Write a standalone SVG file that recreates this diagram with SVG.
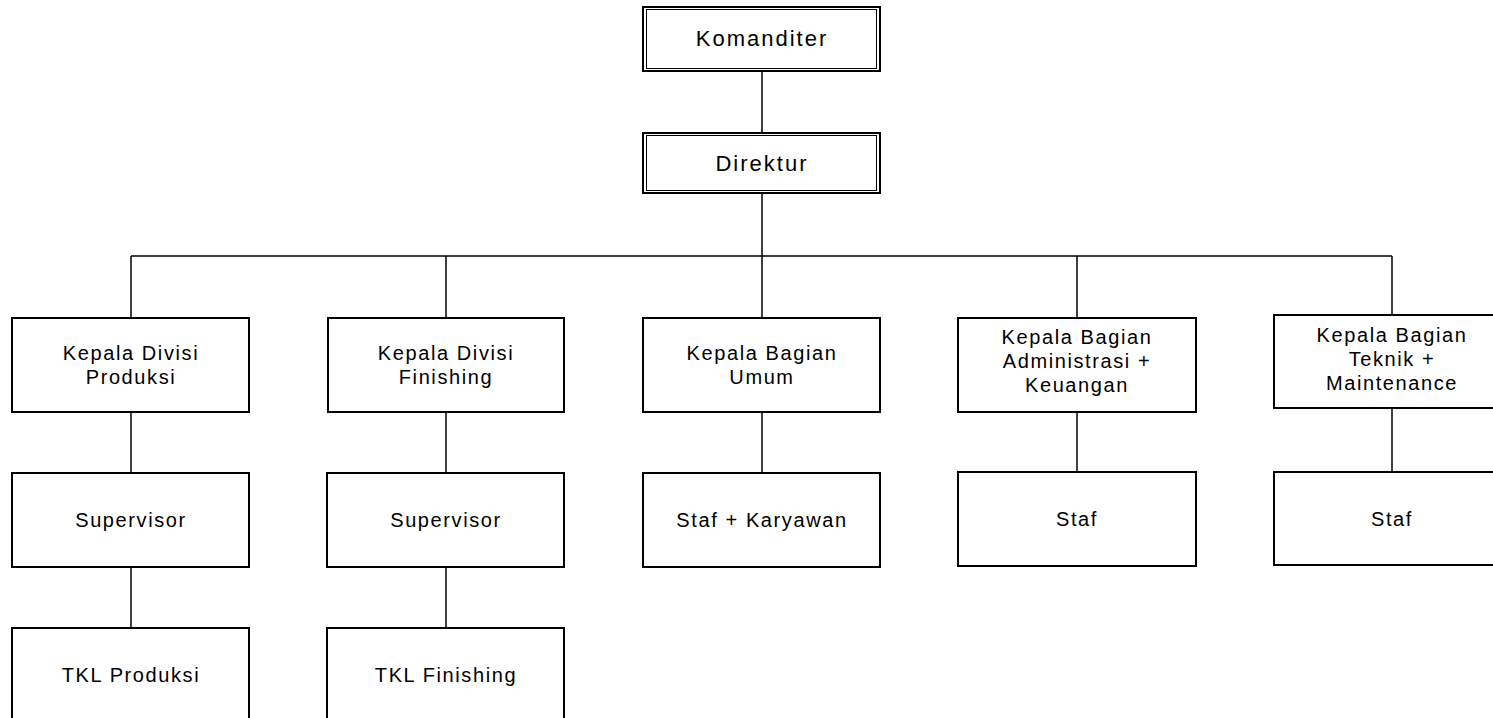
<svg xmlns="http://www.w3.org/2000/svg" width="1493" height="718" viewBox="0 0 1493 718">
<style>
.box{fill:#fff;stroke:#000;stroke-width:2}
.inner{fill:none;stroke:#000;stroke-width:1}
.t{font-family:"Liberation Sans",Arial,sans-serif;font-size:20px;letter-spacing:1.6px;fill:#000;text-anchor:middle}
.tt{font-family:"Liberation Sans",Arial,sans-serif;font-size:22px;letter-spacing:2px;fill:#000;text-anchor:middle}
.c{stroke:#000;stroke-width:1.5;fill:none}
</style>
<rect width="1493" height="718" fill="#fff"/>
<g id="connectors">
<line class="c" x1="762" y1="71" x2="762" y2="133"/>
<line class="c" x1="762" y1="193" x2="762" y2="318"/>
<line class="c" x1="131" y1="256" x2="1392" y2="256"/>
<line class="c" x1="131" y1="256" x2="131" y2="318"/>
<line class="c" x1="446" y1="256" x2="446" y2="318"/>
<line class="c" x1="1077" y1="256" x2="1077" y2="318"/>
<line class="c" x1="1392" y1="256" x2="1392" y2="315"/>
<line class="c" x1="131" y1="412" x2="131" y2="473"/>
<line class="c" x1="446" y1="412" x2="446" y2="473"/>
<line class="c" x1="762" y1="412" x2="762" y2="473"/>
<line class="c" x1="1077" y1="412" x2="1077" y2="472"/>
<line class="c" x1="1392" y1="408" x2="1392" y2="472"/>
<line class="c" x1="131" y1="567" x2="131" y2="628"/>
<line class="c" x1="446" y1="567" x2="446" y2="628"/>
</g>
<g id="komanditer">
<rect class="box" x="643" y="7" width="237" height="64"/>
<rect class="inner" x="646.5" y="9.5" width="230" height="59"/>
<text class="tt" x="762" y="46">Komanditer</text>
</g>
<g id="direktur">
<rect class="box" x="643" y="133" width="237" height="60"/>
<rect class="inner" x="646.5" y="135.5" width="230" height="55"/>
<text class="tt" x="762" y="171">Direktur</text>
</g>
<g id="kadiv-produksi">
<rect class="box" x="12" y="318" width="237" height="94"/>
<text class="t" x="131" y="360">Kepala Divisi</text>
<text class="t" x="131" y="384">Produksi</text>
</g>
<g id="kadiv-finishing">
<rect class="box" x="328" y="318" width="236" height="94"/>
<text class="t" x="446" y="360">Kepala Divisi</text>
<text class="t" x="446" y="384">Finishing</text>
</g>
<g id="kabag-umum">
<rect class="box" x="643" y="318" width="237" height="94"/>
<text class="t" x="762" y="360">Kepala Bagian</text>
<text class="t" x="762" y="384">Umum</text>
</g>
<g id="kabag-admin">
<rect class="box" x="958" y="318" width="238" height="94"/>
<text class="t" x="1077" y="344">Kepala Bagian</text>
<text class="t" x="1077" y="368">Administrasi +</text>
<text class="t" x="1077" y="392">Keuangan</text>
</g>
<g id="kabag-teknik">
<rect class="box" x="1274" y="315" width="237" height="93"/>
<text class="t" x="1392" y="342">Kepala Bagian</text>
<text class="t" x="1392" y="366">Teknik +</text>
<text class="t" x="1392" y="390">Maintenance</text>
</g>
<g id="supervisor-produksi">
<rect class="box" x="12" y="473" width="237" height="94"/>
<text class="t" x="131" y="527">Supervisor</text>
</g>
<g id="supervisor-finishing">
<rect class="box" x="327" y="473" width="237" height="94"/>
<text class="t" x="446" y="527">Supervisor</text>
</g>
<g id="staf-karyawan">
<rect class="box" x="643" y="473" width="237" height="94"/>
<text class="t" x="762" y="527">Staf + Karyawan</text>
</g>
<g id="staf-admin">
<rect class="box" x="958" y="472" width="238" height="94"/>
<text class="t" x="1077" y="526">Staf</text>
</g>
<g id="staf-teknik">
<rect class="box" x="1274" y="472" width="237" height="93"/>
<text class="t" x="1392" y="526">Staf</text>
</g>
<g id="tkl-produksi">
<rect class="box" x="12" y="628" width="237" height="100"/>
<text class="t" x="131" y="682">TKL Produksi</text>
</g>
<g id="tkl-finishing">
<rect class="box" x="327" y="628" width="237" height="100"/>
<text class="t" x="446" y="682">TKL Finishing</text>
</g>
</svg>
